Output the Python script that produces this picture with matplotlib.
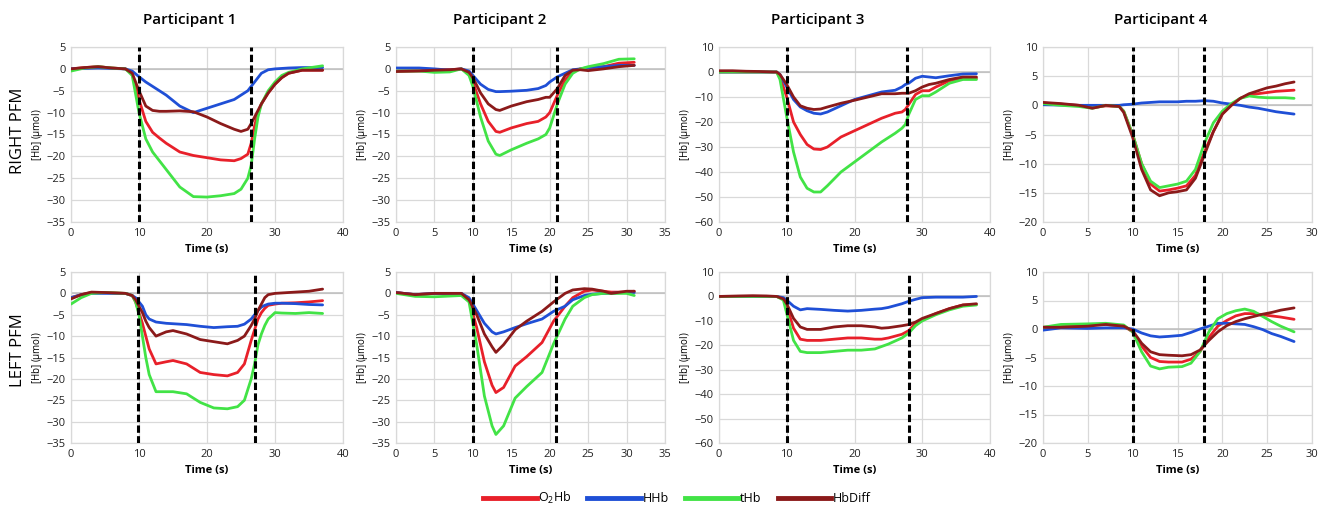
import matplotlib
matplotlib.use("Agg")
import matplotlib.pyplot as plt
from matplotlib.lines import Line2D

plt.rcParams['font.family'] = ['Open Sans', 'DejaVu Sans']
plt.rcParams['mathtext.default'] = 'regular'

# ---- data (time in s, [Hb] in umol) ----
# RIGHT PFM, participant 1
r1_t = [0, 2, 4, 6, 8, 9, 10, 11, 12, 13, 14, 16, 18, 20, 22, 24, 25, 26, 26.5, 27, 27.5, 28, 29, 30, 31, 32, 34, 37]
r1_o2hb = [0, 0.3, 0.5, 0.2, 0, -1, -7, -12, -14.5, -15.8, -17, -19, -19.8, -20.3, -20.8, -21, -20.5, -19.5, -17, -13, -10, -8, -5.5, -3.5, -2, -1, -0.3, -0.3]
r1_hhb = [0, 0.1, 0.2, 0.1, 0, -0.5, -1.8, -3, -4, -5, -6, -8.5, -10, -9, -8, -7, -6, -5, -4, -3, -2, -1, -0.2, 0, 0.1, 0.2, 0.3, 0.3]
r1_thb = [-0.5, 0.2, 0.5, 0.2, 0, -1.5, -10, -16, -19, -21, -23, -27, -29.2, -29.3, -29, -28.5, -27.5, -25, -22, -16, -11, -8, -5, -3, -1.5, -0.8, 0, 0.7]
r1_diff = [0, 0.3, 0.5, 0.2, 0, -1, -5, -8.5, -9.5, -9.7, -9.7, -9.6, -9.8, -11, -12.5, -13.8, -14.3, -13.8, -12.5, -11, -9.5, -8, -5.5, -3.5, -2, -1, -0.3, -0.3]

# RIGHT PFM, participant 2
r2_t = [0, 3, 5, 7, 8.5, 9.5, 10, 11, 12, 13, 13.5, 15, 17, 18.5, 19.5, 20, 21, 22, 23, 24, 25, 27, 29, 31]
r2_o2hb = [-0.5, -0.4, -0.3, -0.2, 0, -1, -3, -8, -12, -14.3, -14.5, -13.5, -12.5, -12, -11, -10, -6, -2.5, -0.5, 0, 0.2, 0.5, 1.3, 1.5]
r2_hhb = [0.2, 0.2, 0, -0.3, 0, -0.5, -1.5, -3.5, -4.7, -5.2, -5.2, -5.1, -4.9, -4.5, -3.8, -3, -1.8, -1, -0.2, 0, 0.3, 0.5, 0.8, 0.8]
r2_thb = [-0.5, -0.5, -0.8, -0.7, 0, -1.5, -4, -11, -16.5, -19.5, -19.8, -18.5, -17, -16, -15, -13.5, -8, -3.5, -1, 0, 0.5, 1.2, 2.2, 2.3]
r2_diff = [-0.6, -0.5, -0.3, -0.2, 0, -0.8, -2, -5.5, -8, -9.3, -9.5, -8.5, -7.5, -7, -6.5, -6.5, -4.5, -1.5, -0.3, -0.2, -0.4, 0, 0.5, 0.8]

# RIGHT PFM, participant 3
r3_t = [0, 2, 4, 6, 8, 8.5, 9, 10, 11, 12, 13, 14, 15, 16, 18, 20, 22, 24, 26, 27, 27.5, 28, 29, 30, 31, 32, 34, 36, 38]
r3_o2hb = [0, 0, 0, 0, 0, 0, -2, -10, -20, -25, -29, -30.8, -31, -30, -26, -23.5, -21, -18.5, -16.5, -16, -15, -13, -9, -7.5, -7.5, -6, -3.5, -2.5, -2.5]
r3_hhb = [0, 0, 0, 0, 0, 0, -1, -6, -11, -14, -15.5, -16.5, -16.8, -16, -13.5, -11, -9.5, -8, -7.3, -6, -5, -4.5, -2.5, -1.7, -2, -2.3, -1.5, -0.8, -0.7]
r3_thb = [0, 0, 0, 0, 0, 0, -3, -18, -32, -42, -46.5, -48, -48, -45.5, -40, -36, -32, -28, -24.5, -22.5, -21, -17, -11, -9.5, -9.5, -8, -4.5, -3, -3]
r3_diff = [0.5, 0.5, 0.3, 0.2, 0, 0, -1, -5, -10, -13.5, -14.5, -15, -14.8, -14, -12.5, -11.3, -10, -8.7, -8.7, -8.5, -8.5, -8.5, -7.5, -6, -5, -4.5, -3, -2, -2]

# RIGHT PFM, participant 4
r4_t = [0, 2, 4, 5.5, 7, 8.5, 9, 10, 11, 12, 13, 14, 15, 16, 17, 18, 19, 20, 21, 22, 23, 24, 25, 26, 27, 28]
r4_o2hb = [0.4, 0.2, 0, -0.4, -0.1, -0.2, -1, -5, -10, -13.5, -14.7, -14.5, -14.2, -13.8, -12, -8, -4.5, -1.5, 0, 1.2, 1.8, 2, 2.2, 2.4, 2.5, 2.6]
r4_hhb = [0.1, 0.05, 0, 0, 0, 0, 0.1, 0.2, 0.4, 0.5, 0.6, 0.6, 0.6, 0.7, 0.7, 0.8, 0.7, 0.4, 0.2, 0, -0.3, -0.5, -0.8, -1.1, -1.3, -1.5]
r4_thb = [0.3, 0, -0.2, -0.5, 0, -0.2, -1, -5, -10, -13, -14.1, -13.8, -13.5, -13, -11, -6.5, -3, -1, 0.3, 1.2, 1.6, 1.4, 1.3, 1.3, 1.3, 1.2]
r4_diff = [0.5, 0.3, 0, -0.5, 0, -0.2, -1.2, -5.5, -11, -14.5, -15.5, -15, -14.8, -14.5, -12.5, -8.5, -4.5, -1.5, 0, 1.2, 2, 2.5, 3, 3.3, 3.7, 4]

# LEFT PFM, participant 1
l1_t = [0, 1.5, 3, 5, 8, 9, 9.5, 10, 10.5, 11, 11.5, 12.5, 14, 15, 17, 19, 21, 23, 24.5, 25.5, 26.5, 27, 27.5, 28, 28.5, 29, 30, 31, 33, 35, 37]
l1_o2hb = [-1, -0.3, 0.2, 0.2, 0, -0.5, -2, -4.5, -7, -10, -13, -16.5, -16, -15.7, -16.5, -18.5, -19, -19.3, -18.5, -16.5, -11, -8.5, -6, -4.5, -3.5, -2.8, -2.5, -2.3, -2.2, -2, -1.7]
l1_hhb = [-1, -0.3, 0, 0, 0, -0.5, -1, -2, -3, -5, -6, -6.7, -7, -7.1, -7.3, -7.7, -8, -7.8, -7.7, -7.2, -6, -5, -4, -3.2, -2.8, -2.5, -2.3, -2.3, -2.4, -2.6, -2.7]
l1_thb = [-2.5, -1, 0, 0.2, 0, -0.5, -2, -5, -10, -15, -19, -23, -23, -23, -23.5, -25.5, -26.8, -27, -26.5, -25, -20, -16.5, -12, -9.5, -7.5, -6, -4.5, -4.6, -4.7, -4.5, -4.7]
l1_diff = [-1.3, -0.3, 0.3, 0.2, 0, -0.5, -1.5, -3, -4.5, -6.5, -8, -10, -9, -8.7, -9.5, -10.8, -11.3, -11.8, -11, -10, -7.5, -6, -4, -2.5, -1, -0.3, 0, 0.1, 0.3, 0.5, 1]

# LEFT PFM, participant 2
l2_t = [0, 2.5, 5, 8.5, 9.5, 10.5, 11.5, 12.5, 13, 14, 15.5, 17, 19, 20.5, 22, 23, 24.5, 25.5, 27, 28, 30, 31]
l2_o2hb = [0.2, -0.3, 0, 0, -1.5, -8, -16, -21.5, -23.2, -22, -17, -14.8, -11.5, -6.5, -3, -1, 0.5, 0.8, 0.5, 0.3, 0.3, 0.5]
l2_hhb = [0.2, -0.3, 0, 0, -1, -4, -7, -9, -9.5, -9, -8, -7.1, -6, -4.2, -3, -1.5, -0.5, -0.2, 0, 0, 0.3, 0.2]
l2_thb = [0, -0.7, -0.8, -0.5, -2, -12, -24, -31, -33, -31, -24.5, -21.8, -18.5, -11.8, -6, -3, -1, -0.3, 0, 0, 0, -0.5]
l2_diff = [0.2, -0.3, 0, 0, -1.5, -5, -9.5, -12.5, -13.8, -12, -8.5, -6.5, -4.2, -2, 0, 0.8, 1.1, 1, 0.5, 0, 0.5, 0.5]

# LEFT PFM, participant 3
l3_t = [0, 3, 5, 7, 8.5, 9.5, 10, 11, 12, 13, 15, 17, 19, 21, 23, 24, 25, 27, 28, 29, 30, 32, 34, 36, 38]
l3_o2hb = [0, 0, 0, 0, 0, -1, -4, -13, -17.5, -18, -18, -17.5, -17, -17, -17.5, -17.5, -17, -15.5, -14, -11, -9.5, -7, -5, -3.5, -3.3]
l3_hhb = [0, 0, 0, 0, 0, -0.5, -1.5, -4, -5.5, -5, -5.3, -5.7, -6, -5.7, -5.2, -5, -4.5, -3, -2, -1.2, -0.5, -0.3, -0.3, -0.3, 0]
l3_thb = [0, 0, 0, 0, 0, -1.5, -7, -18, -22.5, -23, -23, -22.5, -22, -22, -21.5, -20.5, -19.5, -17, -15, -12, -10, -7.5, -5.5, -4, -3.5]
l3_diff = [0, 0.2, 0.3, 0.2, 0, -1, -3, -9, -12.5, -13.5, -13.5, -12.5, -12, -12, -12.5, -13, -12.8, -12, -11.5, -10.5, -9, -7, -5, -3.5, -3]

# LEFT PFM, participant 4
l4_t = [0, 2, 5, 7, 9, 10, 11, 12, 13, 14, 15.5, 16.5, 17.5, 18.5, 19.5, 20.5, 21.5, 22.5, 23.5, 24.5, 25.5, 26.5, 28]
l4_o2hb = [0.3, 0.5, 0.7, 0.8, 0.5, -0.5, -3, -5, -5.7, -5.8, -5.8, -5.3, -4, -1.5, 0.5, 1.5, 2.3, 2.7, 2.7, 2.5, 2.3, 2.1, 1.7]
l4_hhb = [-0.2, 0.2, 0.1, 0.2, 0.2, 0, -0.7, -1.2, -1.4, -1.3, -1.1, -0.6, 0, 0.5, 1, 1, 0.9, 0.8, 0.4, -0.1, -0.8, -1.3, -2.2]
l4_thb = [0.3, 0.8, 0.9, 1, 0.7, -0.5, -4, -6.5, -7, -6.7, -6.6, -6, -4, -0.5, 1.8, 2.7, 3.2, 3.5, 3.1, 2.2, 1.3, 0.5, -0.5]
l4_diff = [0.3, 0.3, 0.5, 0.8, 0.5, -0.3, -2.5, -4, -4.5, -4.6, -4.7, -4.5, -3.7, -2, -0.5, 0.6, 1.3, 1.8, 2.2, 2.6, 2.9, 3.3, 3.7]

# task onset / offset markers (s)
r_marks = [(10, 26.5), (10, 21), (10, 27.8), (10, 18)]
l_marks = [(9.8, 27), (10, 20.8), (10, 28), (10, 18)]

x_max = [40, 35, 40, 30]
x_step = [10, 5, 10, 5]
y_lims = [(-35, 5, 5), (-35, 5, 5), (-60, 10, 10), (-20, 10, 5)]

series_names = ['O$_2$Hb', 'HHb', 'tHb', 'HbDiff']
colors = ['#e8202a', '#1f4fd6', '#42e346', '#8b1a1a']

top_data = [
    (r1_t, [r1_o2hb, r1_hhb, r1_thb, r1_diff]),
    (r2_t, [r2_o2hb, r2_hhb, r2_thb, r2_diff]),
    (r3_t, [r3_o2hb, r3_hhb, r3_thb, r3_diff]),
    (r4_t, [r4_o2hb, r4_hhb, r4_thb, r4_diff]),
]
bottom_data = [
    (l1_t, [l1_o2hb, l1_hhb, l1_thb, l1_diff]),
    (l2_t, [l2_o2hb, l2_hhb, l2_thb, l2_diff]),
    (l3_t, [l3_o2hb, l3_hhb, l3_thb, l3_diff]),
    (l4_t, [l4_o2hb, l4_hhb, l4_thb, l4_diff]),
]

W, H = 1319, 509
fig = plt.figure(figsize=(W / 100, H / 100), dpi=100)

# pixel boxes of the plot areas (left, right)
col_px = [(71, 343), (396, 665), (719, 990), (1043, 1312)]
row_px = [(47, 222), (272, 443)]
title_x = [190, 500, 818, 1161]


def draw_panel(ax, t, vals, marks, xmax, xstep, ylim):
    ymin, ymax, ystep = ylim
    ax.set_xlim(0, xmax)
    ax.set_ylim(ymin, ymax)
    ax.set_xticks(range(0, xmax + 1, xstep))
    ax.set_yticks(range(ymin, ymax + 1, ystep))
    ax.grid(True, color='#d9d9d9', lw=0.9)
    ax.set_axisbelow(True)
    for sp in ax.spines.values():
        sp.set_color('#d9d9d9')
        sp.set_linewidth(0.9)
    ax.tick_params(length=0, labelsize=8, pad=4, colors='#222222')
    ax.axhline(0, color='#bdbdbd', lw=1.1, zorder=1)
    for m in marks:
        ax.axvline(m, color='black', lw=2.2, ls=(0, (2.4, 1.1)), zorder=5)
    for v, c in zip(vals, colors):
        ax.plot(t, v, color=c, lw=2.0, solid_joinstyle='round', solid_capstyle='round', zorder=3)
    ax.set_xlabel('Time (s)', fontsize=8, fontweight='bold', labelpad=4)
    ax.set_ylabel('[Hb] ($\\mu$mol)', fontsize=7, labelpad=1)


for r, data in enumerate([top_data, bottom_data]):
    top, bot = row_px[r]
    marks = r_marks if r == 0 else l_marks
    for c in range(4):
        x0, x1 = col_px[c]
        ax = fig.add_axes([x0 / W, 1 - bot / H, (x1 - x0) / W, (bot - top) / H])
        t, vals = data[c]
        draw_panel(ax, t, vals, marks[c], x_max[c], x_step[c], y_lims[c])

for c in range(4):
    fig.text(title_x[c] / W, 1 - 20 / H, f'Participant {c + 1}', ha='center', va='center',
             fontsize=11, fontweight='semibold')

fig.text(18 / W, 1 - 131 / H, 'RIGHT PFM', rotation=90, ha='center', va='center', fontsize=12)
fig.text(18 / W, 1 - 350 / H, 'LEFT PFM', rotation=90, ha='center', va='center', fontsize=12)

handles = [Line2D([], [], color=c, lw=3.5) for c in colors]
fig.legend(handles, series_names, loc='center', bbox_to_anchor=(0.513, 1 - 498 / H), ncol=4,
           frameon=False, fontsize=9, handlelength=4.3, handletextpad=0.1, columnspacing=1.3)

fig.savefig('out.png', dpi=100)
